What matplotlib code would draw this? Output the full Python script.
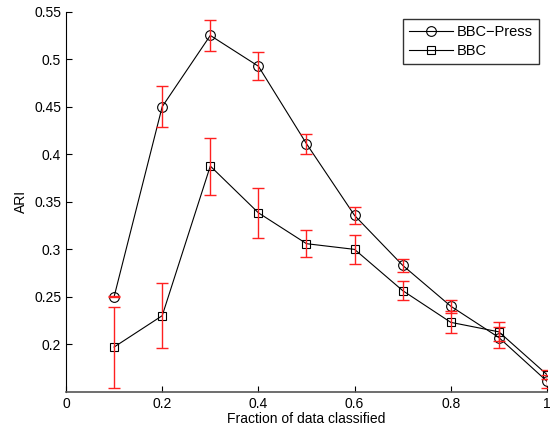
import matplotlib
matplotlib.use("Agg")
import matplotlib.pyplot as plt

plt.rcParams['font.family'] = ['Liberation Sans', 'DejaVu Sans']

frac = [0.1, 0.2, 0.3, 0.4, 0.5, 0.6, 0.7, 0.8, 0.9, 1.0]
press_ari = [0.250, 0.450, 0.525, 0.4926, 0.411, 0.3355, 0.283, 0.240, 0.207, 0.161]
press_err = [0.0005, 0.0215, 0.0165, 0.0145, 0.0105, 0.0085, 0.007, 0.007, 0.011, 0.007]
bbc_ari = [0.197, 0.230, 0.3875, 0.3383, 0.3058, 0.2998, 0.2564, 0.223, 0.213, 0.168]
bbc_err = [0.0426, 0.0345, 0.030, 0.026, 0.014, 0.015, 0.010, 0.0115, 0.010, 0.005]

fig = plt.figure(figsize=(5.51, 4.36), dpi=100)
ax = fig.add_axes([0.1198, 0.1016, 0.8729, 0.8716])

ax.plot(frac, press_ari, '-o', color='black', lw=0.8, ms=7, mfc='none', mew=0.8, label='BBC\u2212Press')
ax.plot(frac, bbc_ari, '-s', color='black', lw=0.8, ms=6, mfc='none', mew=0.8, label='BBC')
ax.errorbar(frac, press_ari, yerr=press_err, fmt='none', ecolor='#ff2020', elinewidth=1.0, capsize=4, capthick=1.0, zorder=3)
ax.errorbar(frac, bbc_ari, yerr=bbc_err, fmt='none', ecolor='#ff2020', elinewidth=1.0, capsize=4, capthick=1.0, zorder=3)

ax.set_xlim(0, 1)
ax.set_ylim(0.15, 0.55)
ax.set_xticks([0, 0.2, 0.4, 0.6, 0.8, 1])
ax.set_xticklabels(['0', '0.2', '0.4', '0.6', '0.8', '1'])
ax.set_yticks([0.2, 0.25, 0.3, 0.35, 0.4, 0.45, 0.5, 0.55])
ax.set_yticklabels(['0.2', '0.25', '0.3', '0.35', '0.4', '0.45', '0.5', '0.55'])
ax.tick_params(direction='in', length=4, labelsize=10, width=0.8)
ax.spines['top'].set_visible(False)
ax.spines['right'].set_visible(False)
ax.spines['left'].set_linewidth(0.8)
ax.spines['bottom'].set_linewidth(1.2)
ax.spines['bottom'].set_color('#555555')

ax.set_xlabel('Fraction of data classified', fontsize=10, labelpad=1)
ax.set_ylabel('ARI', fontsize=10, labelpad=4)

leg = ax.legend(loc='upper right', bbox_to_anchor=(0.983, 0.981), fancybox=False,
                edgecolor='black', fontsize=10.5, handlelength=3.0, borderpad=0.4,
                labelspacing=0.35, handletextpad=0.3, borderaxespad=0)
leg.get_frame().set_linewidth(1.0)

fig.savefig('out.png', dpi=100)
